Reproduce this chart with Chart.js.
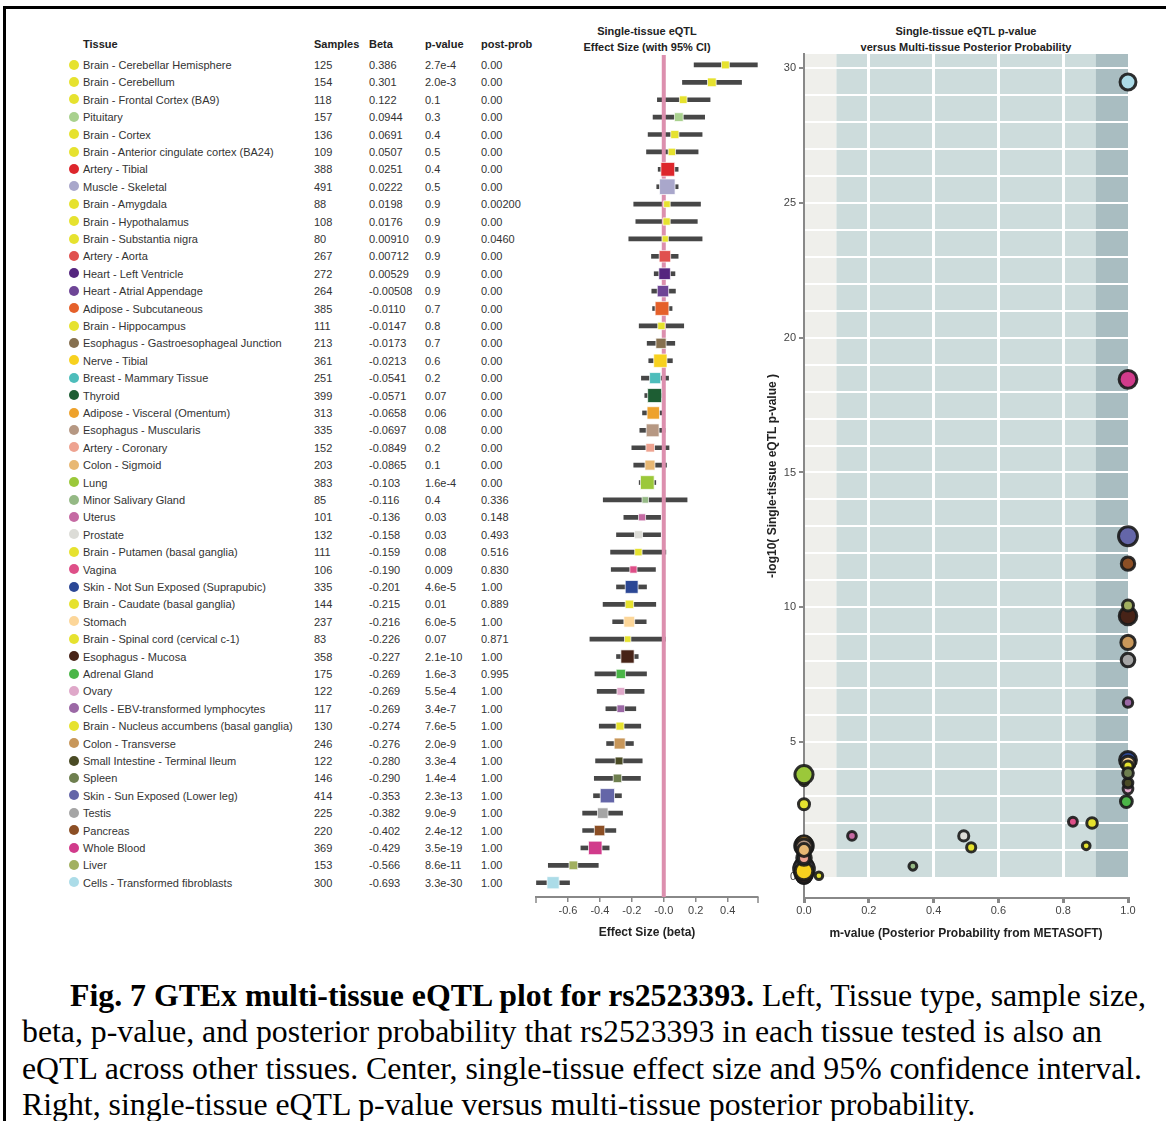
<!DOCTYPE html>
<html><head><meta charset="utf-8">
<script src="https://cdn.jsdelivr.net/npm/chart.js@4.4.1/dist/chart.umd.min.js"></script>
<style>
html,body{margin:0;padding:0;background:#fff;}
body{width:1166px;height:1121px;position:relative;overflow:hidden;font-family:"Liberation Sans",Arial,Helvetica,sans-serif;}
.frame{position:absolute;left:3px;top:6px;width:1300px;height:1300px;border-left:3px solid #000;border-top:3px solid #000;box-sizing:border-box;}
.t{position:absolute;font-size:11px;color:#333;white-space:nowrap;line-height:14px;}
.h{font-weight:bold;color:#222;}
.dot{position:absolute;width:10px;height:10px;border-radius:50%;}
.ptitle{position:absolute;font-size:11px;font-weight:bold;color:#222;text-align:center;line-height:16px;white-space:nowrap;transform:translateX(-50%);}
canvas{position:absolute;}
.caption{position:absolute;left:22px;top:978px;font-family:"Liberation Serif","Times New Roman",serif;font-size:31.8px;line-height:36.3px;color:#000;white-space:nowrap;}
.caption .first{padding-left:48px;}
</style>
</head>
<body>
<div class="frame"></div>
<div id="table"></div>
<div class="ptitle" style="left:647px;top:23px;">Single-tissue eQTL<br>Effect Size (with 95% CI)</div>
<div class="ptitle" style="left:966px;top:23px;">Single-tissue eQTL p-value<br>versus Multi-tissue Posterior Probability</div>
<canvas id="forest" width="260" height="922" style="left:520px;top:20px;width:260px;height:922px;"></canvas>
<canvas id="scatter" width="406" height="898" style="left:760px;top:50px;width:406px;height:898px;"></canvas>
<div class="caption"><span class="first"><b>Fig. 7 GTEx multi-tissue eQTL plot for rs2523393.</b> Left, Tissue type, sample size,</span><br>beta, p-value, and posterior probability that rs2523393 in each tissue tested is also an<br>eQTL across other tissues. Center, single-tissue effect size and 95% confidence interval.<br>Right, single-tissue eQTL p-value versus multi-tissue posterior probability.</div>
<script>
const tissues = [
 'Brain - Cerebellar Hemisphere','Brain - Cerebellum','Brain - Frontal Cortex (BA9)','Pituitary','Brain - Cortex',
 'Brain - Anterior cingulate cortex (BA24)','Artery - Tibial','Muscle - Skeletal','Brain - Amygdala','Brain - Hypothalamus',
 'Brain - Substantia nigra','Artery - Aorta','Heart - Left Ventricle','Heart - Atrial Appendage','Adipose - Subcutaneous',
 'Brain - Hippocampus','Esophagus - Gastroesophageal Junction','Nerve - Tibial','Breast - Mammary Tissue','Thyroid',
 'Adipose - Visceral (Omentum)','Esophagus - Muscularis','Artery - Coronary','Colon - Sigmoid','Lung',
 'Minor Salivary Gland','Uterus','Prostate','Brain - Putamen (basal ganglia)','Vagina',
 'Skin - Not Sun Exposed (Suprapubic)','Brain - Caudate (basal ganglia)','Stomach','Brain - Spinal cord (cervical c-1)','Esophagus - Mucosa',
 'Adrenal Gland','Ovary','Cells - EBV-transformed lymphocytes','Brain - Nucleus accumbens (basal ganglia)','Colon - Transverse',
 'Small Intestine - Terminal Ileum','Spleen','Skin - Sun Exposed (Lower leg)','Testis','Pancreas',
 'Whole Blood','Liver','Cells - Transformed fibroblasts'];
const samples = [125,154,118,157,136,109,388,491,88,108,80,267,272,264,385,111,213,361,251,399,313,335,152,203,383,85,101,132,111,106,335,144,237,83,358,175,122,117,130,246,122,146,414,225,220,369,153,300];
const betaText = ['0.386','0.301','0.122','0.0944','0.0691','0.0507','0.0251','0.0222','0.0198','0.0176','0.00910','0.00712','0.00529','-0.00508','-0.0110','-0.0147','-0.0173','-0.0213','-0.0541','-0.0571','-0.0658','-0.0697','-0.0849','-0.0865','-0.103','-0.116','-0.136','-0.158','-0.159','-0.190','-0.201','-0.215','-0.216','-0.226','-0.227','-0.269','-0.269','-0.269','-0.274','-0.276','-0.280','-0.290','-0.353','-0.382','-0.402','-0.429','-0.566','-0.693'];
const pValueText = ['2.7e-4','2.0e-3','0.1','0.3','0.4','0.5','0.4','0.5','0.9','0.9','0.9','0.9','0.9','0.9','0.7','0.8','0.7','0.6','0.2','0.07','0.06','0.08','0.2','0.1','1.6e-4','0.4','0.03','0.03','0.08','0.009','4.6e-5','0.01','6.0e-5','0.07','2.1e-10','1.6e-3','5.5e-4','3.4e-7','7.6e-5','2.0e-9','3.3e-4','1.4e-4','2.3e-13','9.0e-9','2.4e-12','3.5e-19','8.6e-11','3.3e-30'];
const postProbText = ['0.00','0.00','0.00','0.00','0.00','0.00','0.00','0.00','0.00200','0.00','0.0460','0.00','0.00','0.00','0.00','0.00','0.00','0.00','0.00','0.00','0.00','0.00','0.00','0.00','0.00','0.336','0.148','0.493','0.516','0.830','1.00','0.889','1.00','0.871','1.00','0.995','1.00','1.00','1.00','1.00','1.00','1.00','1.00','1.00','1.00','1.00','1.00','1.00'];
const ciLower = [0.19,0.117,-0.04,-0.067,-0.098,-0.108,-0.035,-0.044,-0.188,-0.175,-0.219,-0.077,-0.06,-0.075,-0.07,-0.154,-0.104,-0.094,-0.14,-0.119,-0.133,-0.15,-0.2,-0.188,-0.154,-0.379,-0.25,-0.296,-0.333,-0.329,-0.296,-0.38,-0.32,-0.4625,-0.296,-0.431,-0.417,-0.3625,-0.404,-0.358,-0.427,-0.435,-0.44,-0.508,-0.508,-0.519,-0.723,-0.797];
const ciUpper = [0.586,0.487,0.29,0.256,0.24,0.215,0.09,0.09,0.23,0.21,0.24,0.09,0.07,0.073,0.052,0.125,0.069,0.054,0.03,0.002,0.0,0.008,0.033,0.017,-0.05,0.146,-0.02,-0.02,0.013,-0.052,-0.108,-0.05,-0.11,0.01,-0.16,-0.108,-0.123,-0.175,-0.144,-0.19,-0.135,-0.146,-0.265,-0.258,-0.3,-0.342,-0.41,-0.59];
const tissueColors = ['#e6e22f','#e6e22f','#e6e22f','#a9d18e','#e6e22f','#e6e22f','#dd262c','#a9a7cb','#e6e22f','#e6e22f',
 '#e6e22f','#e0514f','#55267f','#6e4596','#e5602a','#e6e22f','#86704f','#f7d11f','#4dbdbb','#1d5d33',
 '#eea22c','#b69883','#eea391','#e8b873','#9bc83a','#95b985','#c56aa3','#dcdcd7','#e6e22f','#de4f88',
 '#2b4795','#e6e22f','#fcd699','#e6e22f','#472317','#4bb648','#dfa8c9','#9b68a5','#e6e22f','#c8975a',
 '#4a4b25','#6e7f4f','#6466a8','#a5a5a5','#8c4f25','#d13b8b','#a2b060','#acdce8'];
const tableHeaders = ['Tissue','Samples','Beta','p-value','post-prob'];
const forestTicks = [-0.6,-0.4,-0.2,0,0.2,0.4];
const mTicks = [0,0.2,0.4,0.6,0.8,1.0];
const logPTicks = [0,5,10,15,20,25,30];
const mBandEdges = [0,0.1,0.9,1.0];
const mBandColors = ['#efefeb','#cddcdc','#a9bdc1'];

Chart.defaults.font.family = '"Liberation Sans", Arial, Helvetica, sans-serif';

// ---------- table ----------
const ROW0 = 65, ROWH = 17.4;
const colX = [83,314,369,425,481];
const tbl = document.getElementById('table');
function addText(txt, x, yc, cls) {
  const d = document.createElement('div');
  d.className = 't' + (cls ? ' ' + cls : '');
  d.style.left = x + 'px'; d.style.top = (yc - 7) + 'px';
  d.textContent = txt; tbl.appendChild(d);
}
tableHeaders.forEach((h, k) => addText(h, colX[k], 44, 'h'));
tissues.forEach((name, i) => {
  const yc = ROW0 + i * ROWH;
  const dot = document.createElement('div');
  dot.className = 'dot'; dot.style.left = '69px'; dot.style.top = (yc - 5.5) + 'px';
  dot.style.background = tissueColors[i]; tbl.appendChild(dot);
  [name, String(samples[i]), betaText[i], pValueText[i], postProbText[i]].forEach((v, k) => addText(v, colX[k], yc));
});

function noPadX(s) { s.paddingLeft = 0; s.paddingRight = 0; }
function noPadY(s) { s.paddingTop = 0; s.paddingBottom = 0; }

// ---------- forest plot ----------
const beta = betaText.map(Number);
const rows = tissues.map((_, i) => i);
const endTicks = {
  id: 'endTicks',
  afterDraw(chart) {
    const {ctx} = chart; const s = chart.scales.x;
    ctx.save(); ctx.strokeStyle = '#888'; ctx.lineWidth = 1.5;
    [s.left, s.right].forEach(px => { ctx.beginPath(); ctx.moveTo(px, s.top); ctx.lineTo(px, s.top + 6); ctx.stroke(); });
    ctx.restore();
  }
};
new Chart(document.getElementById('forest'), {
  type: 'scatter',
  data: { datasets: [
    { type: 'bar', indexAxis: 'y', data: rows.map(i => ({x: [ciLower[i], ciUpper[i]], y: i})),
      backgroundColor: '#474747', barThickness: 4, borderWidth: 0, order: 3 },
    { type: 'line', data: [{x: 0, y: -0.57}, {x: 0, y: 47.82}], borderColor: '#dc8fae', borderWidth: 4,
      pointRadius: 0, order: 2 },
    { type: 'scatter', data: rows.map(i => ({x: beta[i], y: i})), pointStyle: 'rect',
      pointRadius: samples.map(n => 0.495 * Math.sqrt(n)), pointBackgroundColor: tissueColors,
      pointBorderColor: 'rgba(255,255,255,0.7)', pointBorderWidth: 1, order: 1 }
  ]},
  options: {
    responsive: false, animation: false,
    layout: { autoPadding: false, padding: { top: 35, left: 16, right: 22, bottom: 0 } },
    plugins: { legend: { display: false }, tooltip: { enabled: false } },
    scales: {
      x: { type: 'linear', min: -0.8, max: 0.59,
        afterBuildTicks: s => { s.ticks = forestTicks.map(v => ({value: v})); },
        afterFit: s => { s.height = 45; noPadX(s); },
        ticks: { callback: v => v === 0 ? '-0.0' : v.toFixed(1), font: { size: 11 }, color: '#444', padding: 2, autoSkip: false, maxRotation: 0 },
        grid: { drawOnChartArea: false, tickLength: 5, color: '#888', lineWidth: 1.5 },
        border: { color: '#888', width: 2 },
        title: { display: true, text: 'Effect Size (beta)', font: { size: 12, weight: 'bold' }, color: '#222', padding: { top: 0, bottom: 2 } }
      },
      y: { type: 'linear', reverse: true, min: -0.57, max: 47.82, display: false, offset: false, grid: { offset: false } }
    }
  },
  plugins: [endTicks]
});

// ---------- scatter plot ----------
const mValues = postProbText.map(Number);
const logP = pValueText.map(p => -Math.log10(Number(p)));
const yGrid = Array.from({length: 31}, (_, k) => k);
const bands = {
  id: 'bands',
  beforeDraw(chart) {
    const {ctx} = chart; const x = chart.scales.x, y = chart.scales.y;
    const top = y.getPixelForValue(y.max), bottom = y.getPixelForValue(0);
    ctx.save();
    for (let k = 0; k < mBandColors.length; k++) {
      const l = x.getPixelForValue(mBandEdges[k]), r = x.getPixelForValue(mBandEdges[k + 1]);
      ctx.fillStyle = mBandColors[k]; ctx.fillRect(l, top, r - l, bottom - top);
    }
    ctx.restore();
  }
};
new Chart(document.getElementById('scatter'), {
  type: 'scatter',
  data: { datasets: [{
    data: tissues.map((_, i) => ({x: mValues[i], y: logP[i]})),
    pointRadius: samples.map(n => 0.5 * Math.sqrt(n) - 0.7),
    pointBackgroundColor: tissueColors,
    pointBorderColor: 'rgba(25,25,25,0.9)', pointBorderWidth: 3, clip: false
  }]},
  options: {
    responsive: false, animation: false,
    layout: { autoPadding: false, padding: { top: 4, right: 38, left: 0, bottom: 0 } },
    plugins: { legend: { display: false }, tooltip: { enabled: false } },
    scales: {
      x: { type: 'linear', min: 0, max: 1,
        afterBuildTicks: s => { s.ticks = mTicks.map(v => ({value: v})); },
        afterFit: s => { s.height = 50; noPadX(s); },
        ticks: { callback: v => v.toFixed(1), font: { size: 11 }, color: '#444', padding: 1, autoSkip: false, maxRotation: 0 },
        grid: { color: c => (c.tick && c.tick.value > 0.01 && c.tick.value < 0.99) ? '#ffffff' : 'rgba(0,0,0,0)', lineWidth: 3, tickColor: '#888', tickLength: 5 },
        border: { color: '#888', width: 2 },
        title: { display: true, text: 'm-value (Posterior Probability from METASOFT)', font: { size: 12, weight: 'bold' }, color: '#222', padding: { top: 0, bottom: 7 } }
      },
      y: { type: 'linear', min: -0.78, max: 30.52,
        afterBuildTicks: s => { s.ticks = yGrid.map(v => ({value: v})); },
        afterFit: s => { s.width = 44; noPadY(s); },
        ticks: { callback: v => logPTicks.includes(v) ? String(v) : '', font: { size: 11 }, color: '#444', padding: 3, autoSkip: false },
        grid: { color: c => (c.tick && c.tick.value > 0) ? '#ffffff' : 'rgba(0,0,0,0)', lineWidth: 2,
                tickColor: c => (c.tick && logPTicks.includes(c.tick.value)) ? '#888' : 'rgba(0,0,0,0)', tickLength: 5 },
        border: { color: '#888', width: 2 },
        title: { display: true, text: '-log10( Single-tissue eQTL p-value )', font: { size: 12, weight: 'bold' }, color: '#222', padding: { top: 5, bottom: 0 } }
      }
    }
  },
  plugins: [bands]
});
</script>
</body></html>
